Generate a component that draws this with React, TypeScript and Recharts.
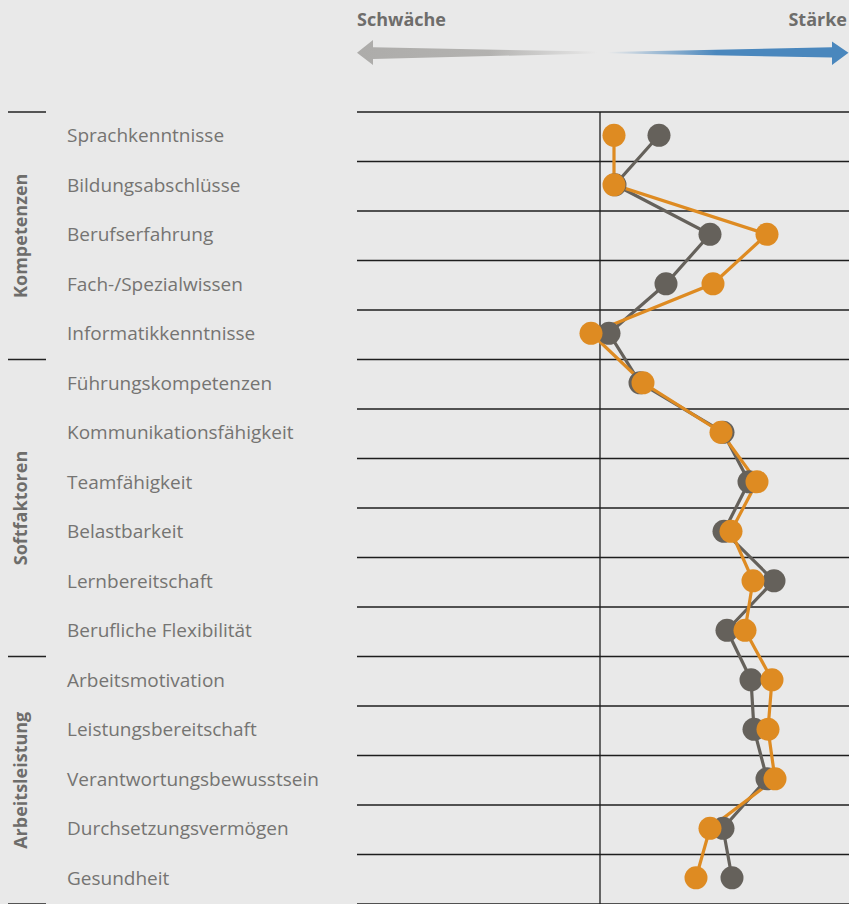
import React from 'react';
import { LineChart, Line, XAxis, YAxis, ReferenceLine } from 'recharts';

const categories = [
  'Sprachkenntnisse',
  'Bildungsabschlüsse',
  'Berufserfahrung',
  'Fach-/Spezialwissen',
  'Informatikkenntnisse',
  'Führungskompetenzen',
  'Kommunikationsfähigkeit',
  'Teamfähigkeit',
  'Belastbarkeit',
  'Lernbereitschaft',
  'Berufliche Flexibilität',
  'Arbeitsmotivation',
  'Leistungsbereitschaft',
  'Verantwortungsbewusstsein',
  'Durchsetzungsvermögen',
  'Gesundheit',
];

const groupNames = ['Kompetenzen', 'Softfaktoren', 'Arbeitsleistung'];
const groupSizes = [5, 6, 5];

const grauValues = [0.59, 0.15, 1.1, 0.66, 0.09, 0.4, 1.23, 1.49, 1.24, 1.74, 1.27, 1.51, 1.54, 1.67, 1.23, 1.32];
const orangeValues = [0.14, 0.14, 1.67, 1.13, -0.09, 0.43, 1.21, 1.57, 1.31, 1.53, 1.45, 1.72, 1.68, 1.75, 1.1, 0.96];

const arrowLabels = ['Schwäche', 'Stärke'];
const gridRows = Array.from({ length: categories.length + 1 }, (_, k) => k);

const data = categories.map((name, i) => ({
  name,
  idx: i + 0.47,
  grau: grauValues[i],
  orange: orangeValues[i],
}));

const W = 849;
const H = 904;
const TOP = 112;
const LEFT = 357;
const ROW = (H - TOP) / categories.length;
const BG = '#e9e9e9';
const TEXT = '#757472';
const GRAU = '#65615b';
const ORANGE = '#de8b22';
const FONT = '"Open Sans", "Noto Sans", sans-serif';

const CatTick = (props: any) => {
  const { y, payload } = props;
  const label = categories[Math.floor(payload.value)];
  return (
    <text x={67} y={y} dy={7} fill={TEXT} fontSize={19} fontFamily={FONT} textAnchor="start">
      {label}
    </text>
  );
};

const Overlay = () => {
  let start = 0;
  const groups = groupNames.map((g, i) => {
    const y0 = TOP + start * ROW;
    start += groupSizes[i];
    const y1 = TOP + start * ROW;
    return { g, y0, y1, yc: (y0 + y1) / 2 };
  });
  const boundaries = [TOP, ...groups.map((g) => g.y1)];
  return (
    <svg width={W} height={H} style={{ position: 'absolute', left: 0, top: 0, pointerEvents: 'none' }}>
      <defs>
        <linearGradient id="gGrau" x1="0" x2="1" y1="0" y2="0">
          <stop offset="0" stopColor="#adacaa" />
          <stop offset="0.55" stopColor="#b3b2b0" />
          <stop offset="1" stopColor="#b3b2b0" stopOpacity="0" />
        </linearGradient>
        <linearGradient id="gBlau" x1="0" x2="1" y1="0" y2="0">
          <stop offset="0" stopColor="#4a87bd" stopOpacity="0" />
          <stop offset="0.45" stopColor="#4a87bd" />
          <stop offset="1" stopColor="#4a87bd" />
        </linearGradient>
      </defs>
      <text x={357} y={26} fill="#6e6d6b" fontSize={18} fontWeight={700} fontFamily={FONT}>
        {arrowLabels[0]}
      </text>
      <text x={847} y={26} fill="#6e6d6b" fontSize={18} fontWeight={700} fontFamily={FONT} textAnchor="end">
        {arrowLabels[1]}
      </text>
      <polygon points="357,52.7 373,40 373,47.3 597,51.6 597,53.4 373,59 373,65" fill="url(#gGrau)" />
      <polygon points="608,52 832,47.3 832,41.5 848.5,52.7 832,65 832,57.5 608,53.2" fill="url(#gBlau)" />
      {boundaries.map((b, i) => (
        <line key={i} x1={8} x2={46} y1={b} y2={b} stroke="#222" strokeWidth={1.3} />
      ))}
      {groups.map((g) => (
        <text
          key={g.g}
          x={27}
          y={g.yc}
          transform={`rotate(-90 27 ${g.yc})`}
          textAnchor="middle"
          fill="#6e6d6b"
          fontSize={18}
          fontWeight={700}
          fontFamily={FONT}
        >
          {g.g}
        </text>
      ))}
    </svg>
  );
};

export default function App() {
  return (
    <div style={{ position: 'absolute', left: 0, top: 0, width: W, height: H, background: BG, overflow: 'hidden' }}>
      <LineChart
        width={W}
        height={H}
        data={data}
        layout="vertical"
        margin={{ top: TOP, right: 0, bottom: 0, left: 0 }}
      >
        <XAxis type="number" hide domain={[-2.43, 2.49]} allowDataOverflow />
        <YAxis
          type="number"
          dataKey="idx"
          domain={[0, categories.length]}
          width={LEFT}
          ticks={data.map((d) => d.idx)}
          interval={0}
          tick={<CatTick />}
          axisLine={false}
          tickLine={false}
          allowDataOverflow
        />
        {gridRows.map((k) => (
          <ReferenceLine key={k} y={k} stroke="#1e1e1e" strokeWidth={1.3} ifOverflow="visible" />
        ))}
        <ReferenceLine x={0} stroke="#1e1e1e" strokeWidth={1.3} />
        <Line
          dataKey="grau"
          stroke={GRAU}
          strokeWidth={3.2}
          dot={{ r: 11.5, fill: GRAU, stroke: 'none', strokeWidth: 0 }}
          activeDot={false}
          isAnimationActive={false}
        />
        <Line
          dataKey="orange"
          stroke={ORANGE}
          strokeWidth={3.2}
          dot={{ r: 11.5, fill: ORANGE, stroke: 'none', strokeWidth: 0 }}
          activeDot={false}
          isAnimationActive={false}
        />
      </LineChart>
      <Overlay />
    </div>
  );
}
